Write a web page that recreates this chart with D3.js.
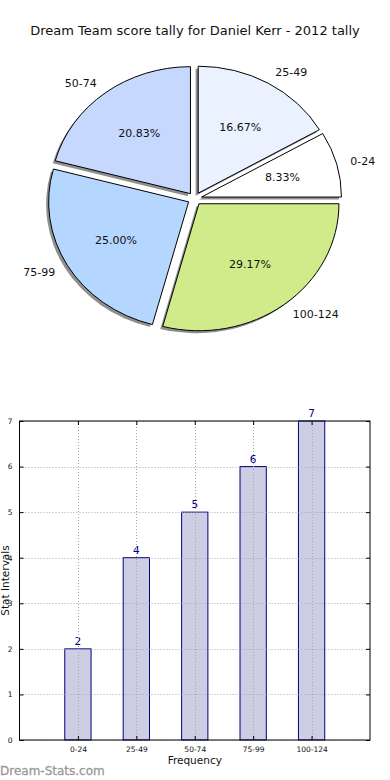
<!DOCTYPE html>
<html lang="en">
<head>
    <meta charset="UTF-8">
    <title>Dream Team score tally</title>
    <script src="https://d3js.org/d3.v7.min.js"></script>
    <style>
        body { margin: 0; background: #fff; }
        text { font-family: "DejaVu Sans", sans-serif; }
    </style>
</head>
<body>
    <div id="chart"></div>
    <script>
        // data
        var categories = ["0-24", "25-49", "50-74", "75-99", "100-124"];
        var counts = [2, 4, 5, 6, 7];
        var pieColors = ["#ffffff", "#eaf1ff", "#c6d8fe", "#b5d6fe", "#d0eb8a"];
        var yTicks = [0, 1, 2, 3, 4, 5, 6, 7];

        var W = 390, H = 780;
        var svg = d3.select("#chart").append("svg")
            .attr("width", W)
            .attr("height", H);

        // ---------- pie ----------
        svg.append("text")
            .attr("x", 195)
            .attr("y", 35)
            .attr("text-anchor", "middle")
            .attr("font-size", "13px")
            .attr("fill", "#111")
            .text("Dream Team score tally for Daniel Kerr - 2012 tally");

        // the pie is stretched (not equal aspect), so it is an ellipse
        var cx = 194.7, cy = 198.7, rx = 140, ry = 127, explode = 0.05;
        var total = d3.sum(counts);

        // counter-clockwise starting at 3 o'clock, like matplotlib
        var pie = d3.pie().sort(null)
            .startAngle(0)
            .endAngle(2 * Math.PI);
        var arcs = pie(counts);   // angles used here as math angles (ccw from east)

        function mid(d) { return (d.startAngle + d.endAngle) / 2; }
        function centre(d) {
            var a = mid(d);
            return { x: cx + explode * rx * Math.cos(a), y: cy - explode * ry * Math.sin(a) };
        }
        function wedge(d, dx, dy) {
            var c = centre(d);
            var x0 = c.x + dx, y0 = c.y + dy;
            var a0 = d.startAngle, a1 = d.endAngle;
            var large = (a1 - a0) > Math.PI ? 1 : 0;
            return "M" + x0 + "," + y0 +
                "L" + (x0 + rx * Math.cos(a0)) + "," + (y0 - ry * Math.sin(a0)) +
                "A" + rx + "," + ry + " 0 " + large + " 0 " +
                (x0 + rx * Math.cos(a1)) + "," + (y0 - ry * Math.sin(a1)) + "Z";
        }

        var defs = svg.append("defs");
        defs.append("filter").attr("id", "blur")
            .attr("x", "-10%").attr("y", "-10%").attr("width", "120%").attr("height", "120%")
            .append("feGaussianBlur").attr("stdDeviation", 0.7);

        var pieG = svg.append("g");

        // shadows
        pieG.selectAll("path.shadow")
            .data(arcs)
            .enter()
            .append("path")
            .attr("class", "shadow")
            .attr("d", function (d) { return wedge(d, -2.5, 2.5); })
            .attr("fill", "#444")
            .attr("opacity", 0.6)
            .attr("filter", "url(#blur)");

        // wedges
        pieG.selectAll("path.wedge")
            .data(arcs)
            .enter()
            .append("path")
            .attr("class", "wedge")
            .attr("d", function (d) { return wedge(d, 0, 0); })
            .attr("fill", function (d, i) { return pieColors[i]; })
            .attr("stroke", "#000")
            .attr("stroke-width", 1);

        // outer labels
        pieG.selectAll("text.lab")
            .data(arcs)
            .enter()
            .append("text")
            .attr("class", "lab")
            .each(function (d, i) {
                var c = centre(d), a = mid(d);
                var tx = c.x + 1.1 * rx * Math.cos(a);
                var ty = c.y - 1.1 * ry * Math.sin(a);
                d3.select(this)
                    .attr("x", tx)
                    .attr("y", ty)
                    .attr("dy", "0.35em")
                    .attr("text-anchor", tx > cx ? "start" : "end")
                    .text(categories[i]);
            })
            .attr("font-size", "11px")
            .attr("fill", "#111");

        // percent labels
        pieG.selectAll("text.pct")
            .data(arcs)
            .enter()
            .append("text")
            .attr("class", "pct")
            .attr("x", function (d) { return centre(d).x + 0.6 * rx * Math.cos(mid(d)); })
            .attr("y", function (d) { return centre(d).y - 0.6 * ry * Math.sin(mid(d)); })
            .attr("dy", "0.35em")
            .attr("text-anchor", "middle")
            .attr("font-size", "11px")
            .attr("fill", "#111")
            .text(function (d) { return (d.value / total * 100).toFixed(2) + "%"; });

        // ---------- bar chart ----------
        var pLeft = 19.5, pRight = 370, pTop = 421, pBottom = 740;
        var x = d3.scaleLinear().domain([-1, 5]).range([pLeft, pRight]);
        var y = d3.scaleLinear().domain([0, 7]).range([pBottom, pTop]);
        var barW = 0.45;

        var bars = svg.append("g");

        bars.selectAll("rect")
            .data(counts)
            .enter()
            .append("rect")
            .attr("x", function (d, i) { return x(i - barW / 2); })
            .attr("y", function (d) { return y(d); })
            .attr("width", x(barW) - x(0))
            .attr("height", function (d) { return y(0) - y(d); })
            .attr("fill", "#cdcde3")
            .attr("stroke", "#000080")
            .attr("stroke-width", 1);

        // grid on top of bars
        var grid = svg.append("g")
            .attr("stroke", "#a8a8a8")
            .attr("stroke-width", 1)
            .attr("stroke-dasharray", "1,2");
        grid.selectAll("line.gy")
            .data(yTicks)
            .enter()
            .append("line")
            .attr("x1", pLeft).attr("x2", pRight)
            .attr("y1", function (d) { return Math.round(y(d)) + 0.5; })
            .attr("y2", function (d) { return Math.round(y(d)) + 0.5; });
        grid.selectAll("line.gx")
            .data(categories)
            .enter()
            .append("line")
            .attr("y1", pTop).attr("y2", pBottom)
            .attr("x1", function (d, i) { return Math.round(x(i)) + 0.5; })
            .attr("x2", function (d, i) { return Math.round(x(i)) + 0.5; });

        // frame
        svg.append("rect")
            .attr("x", pLeft).attr("y", pTop)
            .attr("width", pRight - pLeft).attr("height", pBottom - pTop)
            .attr("fill", "none")
            .attr("stroke", "#000")
            .attr("stroke-width", 1);

        // inward ticks on all sides
        var axisL = d3.axisLeft(y).tickValues(yTicks).tickFormat(d3.format("d"))
            .tickSizeInner(-4).tickSizeOuter(0).tickPadding(7);
        var gL = svg.append("g").attr("transform", "translate(" + pLeft + ",0)").call(axisL);
        var axisR = d3.axisRight(y).tickValues(yTicks).tickSizeInner(-4).tickSizeOuter(0).tickFormat("");
        var gR = svg.append("g").attr("transform", "translate(" + pRight + ",0)").call(axisR);
        var axisB = d3.axisBottom(x).tickValues(d3.range(categories.length))
            .tickFormat(function (d) { return categories[d]; })
            .tickSizeInner(-4).tickSizeOuter(0).tickPadding(7);
        var gB = svg.append("g").attr("transform", "translate(0," + pBottom + ")").call(axisB);
        var axisT = d3.axisTop(x).tickValues(d3.range(categories.length))
            .tickSizeInner(-4).tickSizeOuter(0).tickFormat("");
        var gT = svg.append("g").attr("transform", "translate(0," + pTop + ")").call(axisT);

        [gL, gR, gB, gT].forEach(function (g) {
            g.select(".domain").remove();
            g.selectAll(".tick line").attr("stroke", "#000");
            g.selectAll("text")
                .attr("font-size", "7.5px")
                .attr("font-family", "DejaVu Sans")
                .attr("fill", "#111");
        });

        // value labels
        bars.selectAll("text")
            .data(counts)
            .enter()
            .append("text")
            .attr("x", function (d, i) { return x(i); })
            .attr("y", function (d) { return y(d) - 4; })
            .attr("text-anchor", "middle")
            .attr("font-size", "10.5px")
            .attr("fill", "#000080")
            .text(function (d) { return d; });

        svg.append("text")
            .attr("x", (pLeft + pRight) / 2)
            .attr("y", 764)
            .attr("text-anchor", "middle")
            .attr("font-size", "10.5px")
            .attr("fill", "#111")
            .text("Frequency");

        svg.append("text")
            .attr("transform", "translate(8.5," + ((pTop + pBottom) / 2) + ") rotate(-90)")
            .attr("text-anchor", "middle")
            .attr("font-size", "10.5px")
            .attr("fill", "#111")
            .text("Stat Intervals");

        svg.append("text")
            .attr("x", 0)
            .attr("y", 775)
            .attr("font-size", "12px")
            .attr("fill", "#999")
            .attr("stroke", "#999")
            .attr("stroke-width", 0.3)
            .text("Dream-Stats.com");
    </script>
</body>
</html>
